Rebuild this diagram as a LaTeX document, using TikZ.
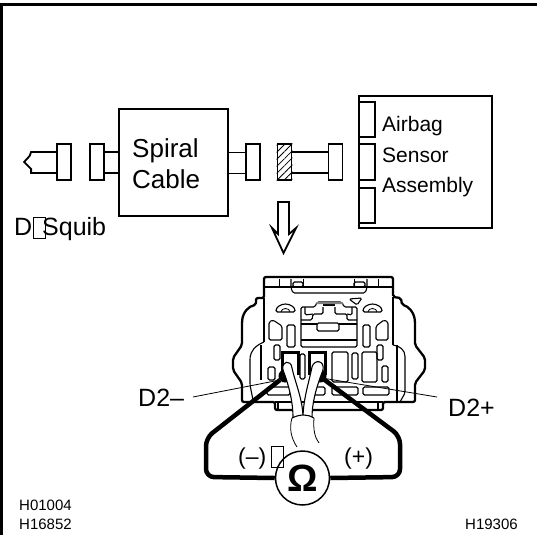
\documentclass[tikz,border=0pt]{standalone}
\usepackage{fontspec}
\setmainfont{Liberation Sans}
\usepackage{tikz}
\usetikzlibrary{calc}
\usetikzlibrary{positioning}
\usetikzlibrary{patterns.meta}

\tikzset{
  thin line/.style={line width=.8pt},
  outline/.style={line width=1.8pt},
  block/.style={draw, line width=1.8pt, inner sep=0pt},
  plug/.style={draw, line width=1.8pt, fill=white, inner sep=0pt, minimum width=14pt, minimum height=36pt},
  pin/.style={draw, line width=1.8pt, inner sep=0pt, outer sep=0pt, minimum width=16pt, anchor=north west},
  label/.style={inner sep=0pt, anchor=base west},
  tofu/.style={draw, line width=.5pt, inner sep=0pt, minimum width=12pt, minimum height=21pt},
  slot/.style={draw, line width=1.1pt, rounded corners=1.5pt},
  probe/.style={line width=4.5pt, rounded corners=8pt, line join=round},
  wire/.style={draw, fill=white, line width=1.1pt}
}

\begin{document}
\begin{tikzpicture}[x=1pt, y=-1pt]
\useasboundingbox (0,0) rectangle (537,535);

% frame
\draw[line width=3pt] (1.5,535) -- (1.5,4.5) -- (537,4.5);

% top row
\node[block, minimum width=109pt, minimum height=107pt] (spiral) at (173.5,162.5) {};
\node[block, minimum width=133pt, minimum height=132pt] (sensor) at (425.5,162) {};
\node[plug] (squib plug) at (64,162) {};
\node[plug, right=17pt of squib plug] (spiral left) {};
\node[plug] (spiral right) at (253,162) {};
\node[plug] (sensor lead) at (284.5,162) {};
\node[plug] (sensor end) at (335.5,162) {};
\fill[pattern={Lines[angle=45,distance=5pt,line width=.8pt]}] (sensor lead.south west) rectangle (sensor lead.north east);
\node[pin, minimum height=35pt] (pin a) at (359,102) {};
\node[pin, minimum height=36pt] (pin b) at (359,144) {};
\node[pin, minimum height=35pt] (pin c) at (359,188) {};

\coordinate (tip a) at ($(squib plug.west)+(-25,-10)$);
\coordinate (tip b) at ($(squib plug.west)+(-25,11)$);
\coordinate (tip) at ($(squib plug.west)+(-32,0)$);
\draw[outline] ($(squib plug.west)+(0,-10)$) -- (tip a) -- ($(tip a)+(-1.5,4)$) -- (tip) -- ($(tip b)+(0,-4)$) -- (tip b) -- ($(squib plug.west)+(0,11)$);
\foreach \a/\b in {spiral left/spiral, spiral/spiral right, sensor lead/sensor end}
  \foreach \d in {-10,11}
    \draw[outline] ($(\a.east)+(0,\d)$) -- ($(\a.east-|\b.west)+(0,\d)$);

\node[label, font=\fontsize{26}{26}\selectfont] (t spiral) at (132,157) {Spiral};
\node[label, font=\fontsize{26}{26}\selectfont] (t cable) at (132,188) {Cable};
\node[label, font=\fontsize{21}{21}\selectfont] (t airbag) at (382,131) {Airbag};
\node[label, font=\fontsize{21}{21}\selectfont] (t sensor) at (382,162) {Sensor};
\node[label, font=\fontsize{21}{21}\selectfont] (t assembly) at (382,192) {Assembly};
\node[label, font=\fontsize{25}{25}\selectfont] (t d) at (14,235) {D};
\node[tofu, anchor=north west] (box d) at (33,217) {};
\node[label, font=\fontsize{25}{25}\selectfont] (t squib) at (42,235) {Squib};

% arrow
\draw[outline] (278,202) -- (289,202) -- (289,234) -- (296,228) -- (283.5,253) -- (272,228) -- (278,234) -- cycle;

% connector body
\draw[line width=2.3pt, line join=round, rounded corners=2pt] (275,410) -- (275,402) -- (242,402) -- (242,383) -- (233,370) -- (233,358) -- (242,345)
  -- (242,322) .. controls (243,312) and (249,306) .. (256,305)
  -- (256,298) -- (264,298) -- (264,277) -- (393,277) -- (393,297) -- (401,298) -- (402,305)
  .. controls (408,306) and (414,312) .. (415,322) -- (415,345)
  -- (425,358) -- (425,370) -- (415,383) -- (415,402) -- (383,402) -- (383,410) -- cycle;
\draw[slot] (264,287) -- (393,287);
\draw[slot] (291,279) -- (291,288) -- (293,293) -- (365,293) -- (367,288) -- (367,279);
\draw[slot] (293,282) rectangle (303,287);
\draw[slot] (354,282) rectangle (365,287);
\foreach \x in {279,303,354,378}
  \draw[thin line] (\x,279) -- (\x,287);
\draw[slot] (349,299) -- (362,298) -- (357,305) -- cycle;
\draw[slot] (276,312) -- (295,312) arc (0:-180:9.5 and 8) -- cycle;
\draw[slot] (363,312) -- (382,312) arc (0:-180:9.5 and 8) -- cycle;
\draw[thin line] (281,312) arc (180:360:4.5 and 3.5);
\draw[thin line] (368,312) arc (180:360:4.5 and 3.5);

% center block
\draw[slot] (301,307) -- (315,307) -- (317,302) -- (342,302) -- (344,307) -- (357,307) -- (357,347) -- (301,347) -- cycle;
\draw[slot] (301,340) -- (357,340);
\draw[slot] (301,324) -- (317,324) (339,324) -- (357,324);
\draw[slot] (317,323) rectangle (339,331);
\draw[slot] (323,307) -- (323,314) -- (313,314) -- (312,320) -- (301,320);
\draw[slot] (335,307) -- (335,314) -- (347,314) -- (347,320) -- (357,320);
\draw[slot] (323,305) -- (335,305);
\draw[slot] (305,307) -- (305,315) -- (313,314);
\draw[slot] (352,307) -- (352,315) -- (347,314);
\fill[gray] (317,302) -- (342,302) -- (343,304) -- (316,304) -- cycle;

% pillars
\draw[slot] (269,322) -- (273,320) -- (282,326) -- (282,340) -- (269,340) -- cycle;
\draw[slot] (388,322) -- (384,320) -- (376,326) -- (376,340) -- (388,340) -- cycle;
\draw[slot] (287,325) rectangle (295,347);
\draw[slot] (363,325) rectangle (370,347);
\draw[slot] (264,298) -- (264,342) (393,297) -- (393,345);
\draw[slot] (253,400) -- (250,385) -- (250,358) .. controls (251,352) and (254,346) .. (264,342);
\draw[slot] (393,345) .. controls (400,346) and (405,350) .. (405,358) -- (405,393) -- (400,402);
\draw[slot] (397,345) -- (397,402);
\draw[slot] (261,345) -- (261,380);

% cavities
\draw[slot] (274,345) rectangle (280,360);
\draw[slot] (377,345) rectangle (383,360);
\draw[slot] (268,367) rectangle (275,380);
\draw[slot] (300,354) rectangle (305,379);
\draw[slot] (332,352) rectangle (348,382);
\draw[slot] (352,353) rectangle (358,379);
\draw[slot] (362,352) rectangle (377,382);
\draw[slot] (382,366) rectangle (388,382);
\draw[slot] (267,387) rectangle (290,395);
\draw[slot] (313,387) rectangle (325,395);
\draw[slot] (332,387) rectangle (358,395);
\draw[slot] (363,387) rectangle (389,395);
\draw[slot] (275,402) -- (383,402);
\draw[slot] (278,402) -- (278,410) (378,402) -- (378,410);
\draw[line width=3pt] (282,375) -- (282,352) -- (298,352) -- (298,375);
\draw[line width=3pt] (309,375) -- (309,352) -- (325,352) -- (325,375);

% leader lines
\coordinate (left pin) at (280,380);
\coordinate (right pin) at (322,378);
\draw[thin line] (193,397) -- (left pin);
\draw[thin line] (right pin) -- (437,397);

% meter
\node[draw, circle, fill=white, line width=1.5pt, minimum size=54pt, inner sep=0pt] (meter) at (302.5,478) {};
\node[inner sep=0pt, font=\fontsize{38}{38}\selectfont\bfseries] (omega) at (meter) {Ω};
\draw[probe] (left pin) -- (206,438) -- (206,477) -- (meter.west);
\draw[probe] (right pin) -- (400,436) -- (400,477) -- (meter.east);
\fill (285,376) circle (6.5pt);
\fill (320,376) circle (6.5pt);

% cable
\fill[white] (292,418) .. controls (300,414) and (308,414) .. (314,418) -- (314,424) -- (292,424) -- cycle;
\draw[wire] (293,418) .. controls (293,400) and (288,383) .. (283,370) .. controls (281,361) and (291,359) .. (292,368) .. controls (295,382) and (303,400) .. (303,418) -- cycle;
\draw[wire] (312,418) .. controls (312,400) and (318,383) .. (323,370) .. controls (325,360) and (314,359) .. (312,367) .. controls (309,382) and (303,400) .. (303,418) -- cycle;
\fill[white] (292,418) .. controls (300,414) and (308,414) .. (314,418) -- (314,426) -- (292,426) -- cycle;
\draw[wire, fill=none] (292,418) .. controls (300,414) and (308,414) .. (314,418);
\draw[thin line] (292,418) .. controls (289,428) and (291,438) .. (297,447);
\draw[thin line] (314,418) .. controls (313,430) and (315,438) .. (319,443);

% labels
\node[label, font=\fontsize{23}{23}\selectfont] (t minus) at (238,464) {(–)};
\node[tofu, anchor=north west] (box minus) at (271,446) {};
\node[label, font=\fontsize{23}{23}\selectfont] (t plus) at (344,464) {(+)};
\node[label, font=\fontsize{25}{25}\selectfont] (t d2m) at (138,406) {D2–};
\node[label, font=\fontsize{25}{25}\selectfont] (t d2p) at (448,416) {D2+};
\node[label, font=\fontsize{15}{15}\selectfont] (t h1) at (19,510) {H01004};
\node[label, font=\fontsize{15}{15}\selectfont] (t h2) at (19,529) {H16852};
\node[label, font=\fontsize{15}{15}\selectfont] (t h3) at (465,529) {H19306};
\end{tikzpicture}
\end{document}
